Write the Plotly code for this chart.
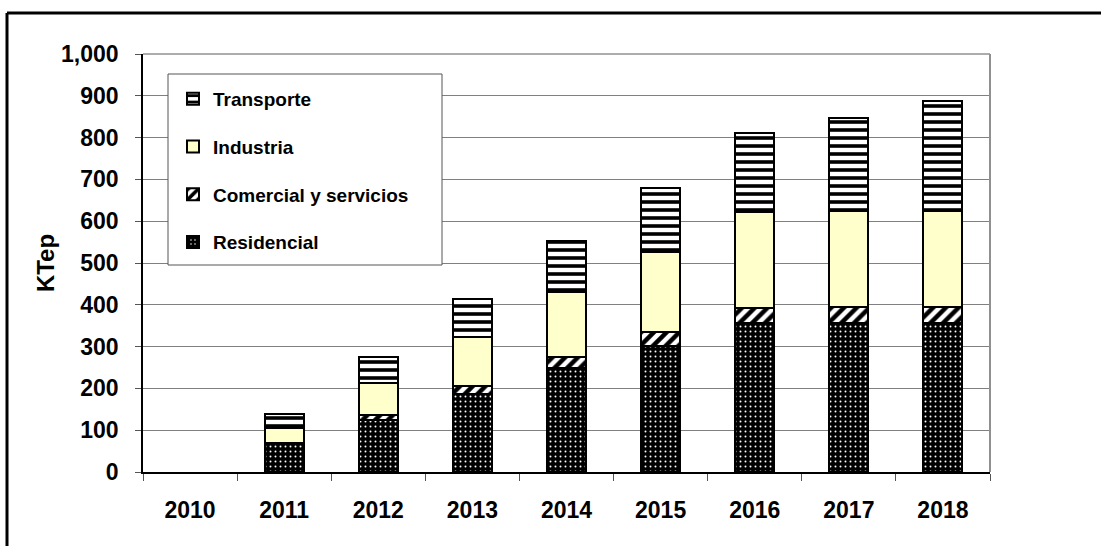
import plotly.graph_objects as go

years = ["2010", "2011", "2012", "2013", "2014", "2015", "2016", "2017", "2018"]
residencial = [None, 68, 125, 187, 248, 302, 356, 356, 356]
comercial = [None, 1, 12, 19, 26, 32, 37, 38, 38]
industria = [None, 37, 76, 116, 157, 193, 230, 230, 230]
transporte = [None, 32, 63, 92, 122, 152, 187, 224, 264]
y_ticks = [0, 100, 200, 300, 400, 500, 600, 700, 800, 900, 1000]

FONT = "Liberation Sans, Arial, sans-serif"
W, H = 1101, 546
L, R, T, B = 143, 990, 54, 472   # plot area in pixels


def px_x(p):
    return (p - L) / (R - L)


def px_y(p):
    return (B - p) / (B - T)


fig = go.Figure()
line = dict(color="black", width=2)
fig.add_trace(go.Bar(
    x=years, y=residencial, name="Residencial", legendgroup="res", legendrank=4,
    marker=dict(color="black", line=line,
                pattern=dict(shape=".", fgcolor="white", bgcolor="black",
                             size=5, solidity=0.12, fillmode="replace")),
))
fig.add_trace(go.Bar(
    x=years, y=comercial, name="Comercial y servicios", legendgroup="com", legendrank=3,
    marker=dict(color="white", line=line,
                pattern=dict(shape="/", fgcolor="black", bgcolor="white",
                             size=9, solidity=0.5, fillmode="replace")),
))
fig.add_trace(go.Bar(
    x=years, y=industria, name="Industria", legendgroup="ind", legendrank=2,
    marker=dict(color="#FFFFCC", line=line),
))
fig.add_trace(go.Bar(
    x=years, y=transporte, name="Transporte", legendgroup="tra", legendrank=1,
    marker=dict(color="white", line=line,
                pattern=dict(shape="-", fgcolor="black", bgcolor="white",
                             size=8, solidity=0.45, fillmode="replace")),
))

shapes = [
    # legend box
    dict(type="rect", xref="paper", yref="paper",
         x0=px_x(168), x1=px_x(442), y0=px_y(265), y1=px_y(74),
         line=dict(color="#555555", width=1), fillcolor="white", layer="above"),
    # right plot border
    dict(type="line", xref="paper", yref="paper", x0=1, x1=1, y0=0, y1=1,
         line=dict(color="#909090", width=2)),
    # top plot border
    dict(type="line", xref="paper", yref="paper", x0=0, x1=1, y0=1, y1=1,
         line=dict(color="#909090", width=1.5)),
    # outer frame (top and left)
    dict(type="line", xref="paper", yref="paper", x0=px_x(7), x1=px_x(1110),
         y0=px_y(13), y1=px_y(13), line=dict(color="black", width=3)),
    dict(type="line", xref="paper", yref="paper", x0=px_x(7), x1=px_x(7),
         y0=px_y(13), y1=px_y(560), line=dict(color="black", width=3)),
]

fig.update_layout(
    width=W, height=H,
    margin=dict(l=L, r=W - R, t=T, b=H - B, pad=0),
    paper_bgcolor="white", plot_bgcolor="white",
    barmode="stack", bargap=0.585,
    font=dict(family=FONT, color="black"),
    shapes=shapes,
    showlegend=True,
    legend=dict(
        x=px_x(173), y=px_y(80), xanchor="left", yanchor="top",
        bgcolor="rgba(0,0,0,0)", borderwidth=0,
        traceorder="grouped", tracegroupgap=20,
        font=dict(family=FONT, size=19, color="black", weight="bold"),
        itemclick=False,
    ),
    xaxis=dict(
        type="category", tickson="boundaries", ticks="outside", ticklen=7,
        tickcolor="#555555", tickwidth=1,
        showline=True, linecolor="black", linewidth=1.5,
        showgrid=False,
        tickfont=dict(family=FONT, size=23, color="black", weight="bold"),
        ticklabelstandoff=17,
    ),
    yaxis=dict(
        range=[0, 1000], tickvals=y_ticks, tickformat=",",
        ticks="outside", ticklen=6, tickcolor="#555555",
        showline=True, linecolor="black", linewidth=1.5,
        showgrid=True, gridcolor="#808080", gridwidth=1,
        zeroline=False,
        tickfont=dict(family=FONT, size=23, color="black", weight="bold"),
        ticklabelstandoff=12,
        title=dict(text="KTep", standoff=0,
                   font=dict(family=FONT, size=24, color="black", weight="bold")),
    ),
)

fig.write_html("out.html", config={"displayModeBar": False},
               post_script="document.body.style.margin='0';")
